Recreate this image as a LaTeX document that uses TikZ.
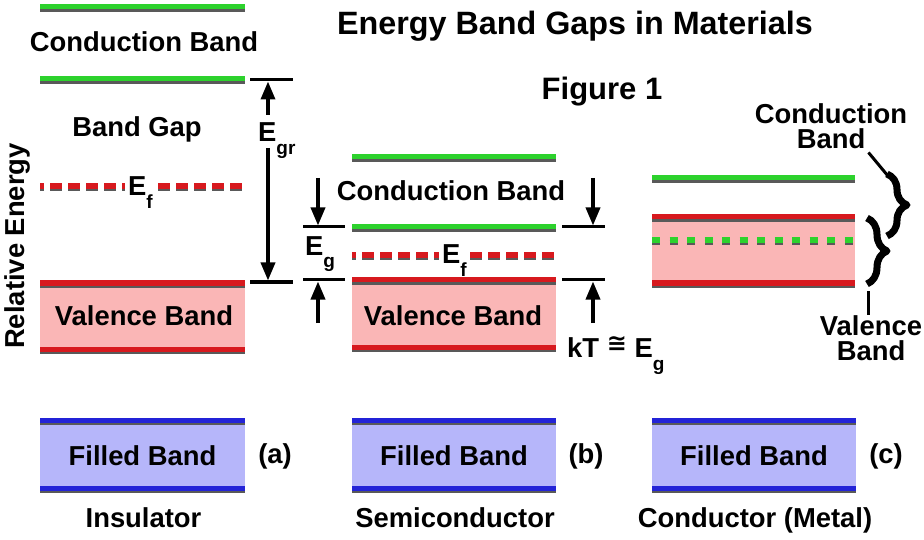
\documentclass[tikz,border=0pt]{standalone}
\usepackage{fontspec}
\setmainfont{Liberation Sans}
\newfontfamily\symfont{DejaVu Sans}
\usepackage{tikz}
\usetikzlibrary{arrows.meta,decorations.pathreplacing}

\definecolor{bandgreen}{RGB}{45,210,45}
\definecolor{bandred}{RGB}{215,25,30}
\definecolor{bandpink}{RGB}{250,182,182}
\definecolor{bandblue}{RGB}{35,35,215}
\definecolor{bandlav}{RGB}{182,182,250}

\newcommand{\subtxt}[1]{\raisebox{-13pt}{\fontsize{19}{19}\selectfont #1}}

\begin{document}
\begin{tikzpicture}[x=1pt, y=-1pt,
    txt/.style={font=\fontsize{27.4}{30}\selectfont\bfseries, inner sep=0pt},
    ttl/.style={font=\fontsize{32.3}{34}\selectfont\bfseries, inner sep=0pt},
    shade/.style={preaction={draw=black!65, line width=5pt, transform canvas={yshift=-2.5pt}, #1}},
    shade/.default={},
    cline/.style={draw=bandgreen, line width=5pt, shade},
    vline/.style={draw=bandred, line width=5pt, shade},
    fline/.style={draw=bandblue, line width=5pt, shade},
    vdash/.style={draw=bandred, line width=5.5pt, dash pattern=on 12pt off 6pt, dash phase=8pt,
        shade={dash pattern=on 12pt off 6pt, dash phase=8pt}},
    gdash/.style={draw=bandgreen, line width=5.5pt, dash pattern=on 8pt off 9.5pt,
        shade={dash pattern=on 8pt off 9.5pt}},
    tick/.style={line width=3pt},
    arr/.style={line width=3.5pt, -{Triangle[width=14pt,length=18pt]}},
    lead/.style={line width=3pt},
    brc/.style={draw=black, line width=7pt, line join=round, decorate, decoration={brace, amplitude=20pt}}
]
    \useasboundingbox (0,0) rectangle (924,540);

    % Title
    \node[ttl, anchor=base] (title) at (575,35) {Energy Band Gaps in Materials};
    \node[font=\fontsize{31}{33}\selectfont\bfseries, inner sep=0pt, anchor=base] (fig) at (602,100) {Figure 1};
    \node[txt, rotate=90, anchor=base] (relE) at (24,246) {Relative Energy};

    % Insulator
    \draw[cline] (40,7) -- (245,7);
    \node[txt, anchor=base] (icb) at (144,52) {Conduction Band};
    \draw[cline] (40,79) -- (245,79);
    \node[txt, anchor=base] (igap) at (137,137) {Band Gap};
    \draw[vdash] (40,186) -- (245,186);
    \node[txt, fill=white, inner xsep=3pt, anchor=base west] (ief) at (125,196) {E\subtxt{f}};
    \fill[bandpink] (40,283) rectangle (245,349);
    \draw[vline] (40,283) -- (245,283);
    \draw[vline] (40,349) -- (245,349);
    \node[txt, anchor=base] (ivb) at (144,325) {Valence Band};

    % Insulator gap arrow
    \draw[tick] (250,80) -- (293,80);
    \draw[tick] (250,282) -- (293,282);
    \node[txt, anchor=base west] (egr) at (258,142) {E\subtxt{gr}};
    \coordinate (egrtop) at (268,115);
    \coordinate (egrbot) at (268,148);
    \coordinate (gaptop) at (268,81.5);
    \coordinate (gapbot) at (268,280.5);
    \draw[arr] (egrtop) -- (gaptop);
    \draw[arr] (egrbot) -- (gapbot);

    % Semiconductor
    \draw[cline] (352,157) -- (556,157);
    \node[txt, anchor=base] (scb) at (451,201) {Conduction Band};
    \draw[cline] (352,227) -- (556,227);
    \draw[vdash] (352,255) -- (556,255);
    \node[txt, fill=white, inner xsep=3pt, anchor=base west] (sef) at (439,264) {E\subtxt{f}};
    \fill[bandpink] (352,280) rectangle (556,347);
    \draw[vline] (352,280) -- (556,280);
    \draw[vline] (352,347) -- (556,347);
    \node[txt, anchor=base] (svb) at (453,325) {Valence Band};

    % Semiconductor gap marks
    \draw[tick] (303,227) -- (345,227);
    \draw[tick] (303,280) -- (345,280);
    \draw[tick] (562,227) -- (605,227);
    \draw[tick] (562,280) -- (605,280);
    \node[txt, anchor=base west] (seg) at (305,255) {E\subtxt{g}};
    \node[txt, anchor=base west] (kt) at (567,357)
        {kT {\symfont\fontsize{24}{24}\selectfont\raisebox{6pt}{≅}} E\subtxt{g}};
    \coordinate (lgtop) at (318,178);
    \coordinate (lgtip) at (318,225.5);
    \coordinate (lgbot) at (318,323);
    \coordinate (lgtip2) at (318,281.5);
    \coordinate (rgtop) at (593,178);
    \coordinate (rgtip) at (593,225.5);
    \coordinate (rgbot) at (593,323);
    \coordinate (rgtip2) at (593,281.5);
    \draw[arr] (lgtop) -- (lgtip);
    \draw[arr] (lgbot) -- (lgtip2);
    \draw[arr] (rgtop) -- (rgtip);
    \draw[arr] (rgbot) -- (rgtip2);

    % Conductor
    \draw[cline] (652,178) -- (855,178);
    \fill[bandpink] (652,217) rectangle (855,283);
    \draw[vline] (652,217) -- (855,217);
    \draw[vline] (652,283) -- (855,283);
    \draw[gdash] (652,240) -- (855,240);
    \coordinate (br1a) at (887,174);
    \coordinate (br1b) at (887,236);
    \coordinate (br2a) at (867,218);
    \coordinate (br2b) at (867,284);
    \draw[brc] (br1a) -- (br1b);
    \draw[brc] (br2a) -- (br2b);
    \node[txt, anchor=base] (ccb1) at (831,124) {Conduction};
    \node[txt, anchor=base] (ccb2) at (831,149) {Band};
    \node[txt, anchor=base] (cvb1) at (871,335) {Valence};
    \node[txt, anchor=base] (cvb2) at (871,360) {Band};
    \coordinate (lead2) at (868,291);
    \draw[lead] ([shift={(3pt,-3pt)}]ccb2.south east) -- ([shift={(1pt,-2pt)}]br1a);
    \draw[lead] (lead2) -- (lead2 |- cvb1.north);

    % Filled bands
    \foreach \xa/\xb/\lab/\kind in {40/245/a/Insulator, 352/556/b/Semiconductor, 652/856/c/Conductor (Metal)} {
        \fill[bandlav] (\xa,420) rectangle (\xb,488);
        \draw[fline] (\xa,420) -- (\xb,420);
        \draw[fline] (\xa,488) -- (\xb,488);
        \node[txt, anchor=base] (fb-\lab) at ({(\xa+\xb)/2},465) {Filled Band};
        \node[txt, anchor=base] (tag-\lab) at (\xb+30,463) {(\lab)};
        \node[txt, anchor=base] (kind-\lab) at ({(\xa+\xb)/2+1},527) {\kind};
    }
\end{tikzpicture}
\end{document}
